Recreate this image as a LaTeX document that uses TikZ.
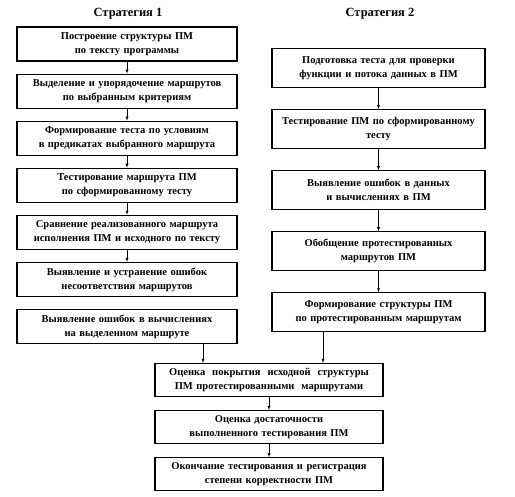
\documentclass[tikz,border=0pt]{standalone}
\usepackage{fontspec}
\setmainfont{Liberation Serif}
\tikzstyle{lbox}=[rectangle,draw,line width=1.1pt,inner xsep=3pt,inner ysep=2pt,
text width=214pt,minimum height=34pt,align=center,font=\bfseries\fontsize{10.5}{14}\selectfont]
\tikzstyle{rbox}=[lbox,text width=207pt,minimum height=39pt]
\tikzstyle{cbox}=[lbox,text width=222pt,minimum height=33pt]
\tikzstyle{title}=[font=\bfseries\fontsize{12.5}{14}\selectfont]
\usetikzlibrary{arrows,positioning}

\begin{document}
\begin{tikzpicture}[x=1pt,y=1pt,node distance=12pt,>=latex]
            \useasboundingbox (0,0) rectangle (515,-497);

            % STRATEGY 1

            \node[title] (s1) at (128,-14) {Стратегия 1};
            \node[lbox] (b1) at (127,-44) {Построение структуры ПМ\\по тексту программы};
            \node[lbox,below=of b1] (b2) {Выделение и упорядочение маршрутов\\по выбранным критериям};
            \node[lbox,below=of b2] (b3) {Формирование теста по условиям\\в предикатах выбранного маршрута};
            \node[lbox,below=of b3] (b4) {Тестирование маршрута ПМ\\по сформированному тесту};
            \node[lbox,below=of b4] (b5) {Сравнение реализованного маршрута\\исполнения ПМ и исходного по тексту};
            \node[lbox,below=of b5] (b6) {Выявление и устранение ошибок\\несоответствия маршрутов};
            \node[lbox,below=of b6] (b7) {Выявление ошибок в вычислениях\\на выделенном маршруте};

            \path[-latex] (b1) edge node {} (b2);
            \path[-latex] (b2) edge node {} (b3);
            \path[-latex] (b3) edge node {} (b4);
            \path[-latex] (b4) edge node {} (b5);
            \path[-latex] (b5) edge node {} (b6);

            % STRATEGY 2

            \node[title] (s2) at (380,-14) {Стратегия 2};
            \node[rbox] (r1) at (378.5,-68) {Подготовка теста для проверки\\функции и потока данных в ПМ};
            \node[rbox,below=21pt of r1] (r2) {Тестирование ПМ по сформированному\\тесту};
            \node[rbox,below=21pt of r2] (r3) {Выявление ошибок в данных\\и вычислениях в ПМ};
            \node[rbox,below=21pt of r3] (r4) {Обобщение протестированных\\маршрутов ПМ};
            \node[rbox,below=21pt of r4] (r5) {Формирование структуры ПМ\\по протестированным маршрутам};

            \path[-latex] (r1) edge node {} (r2);
            \path[-latex] (r2) edge node {} (r3);
            \path[-latex] (r3) edge node {} (r4);
            \path[-latex] (r4) edge node {} (r5);

            % COMMON PART

            \node[cbox] (c1) at (269,-380) {Оценка\ \ покрытия\ \ исходной\ \ структуры\\ПМ протестированными\ \ маршрутами};
            \node[cbox,below=13pt of c1] (c2) {Оценка достаточности\\выполненного тестирования ПМ};
            \node[cbox,below=13pt of c2] (c3) {Окончание тестирования и регистрация\\степени корректности ПМ};

            \coordinate (in1) at ([xshift=-66pt]c1.north);
            \coordinate (in2) at ([xshift=54pt]c1.north);

            \draw[-latex] (b7.south -| in1) -- (in1);
            \draw[-latex] (r5.south -| in2) -- (in2);
            \path[-latex] (c1) edge node {} (c2);
            \path[-latex] (c2) edge node {} (c3);

        \end{tikzpicture}
\end{document}
